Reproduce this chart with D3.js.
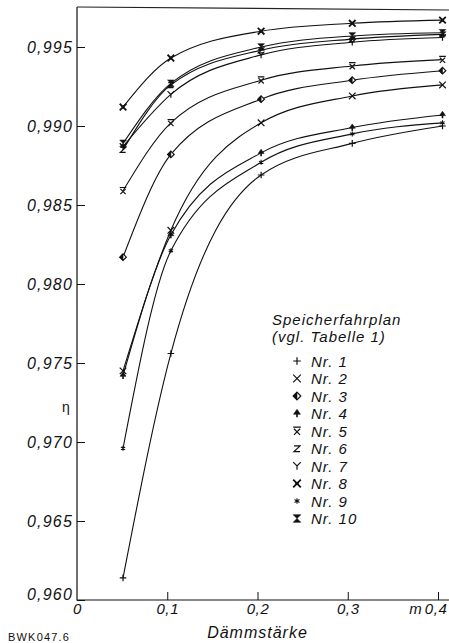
<!DOCTYPE html>
<html>
<head>
<meta charset="utf-8">
<script src="https://cdn.jsdelivr.net/npm/d3@7"></script>
<style>
	body { margin: 0; background: #fff; }
	svg { display: block; }
</style>
</head>
<body>
<svg id="chart"></svg>
<script>
const svgWidth = 449;
const svgHeight = 643;
const fontFamily = "'Liberation Sans', Arial, sans-serif";

// Dämmstärke in m (where the points sit)
const thickness = [0.051, 0.104, 0.204, 0.305, 0.405];

// eta per Speicherfahrplan
const nr1  = [0.9614, 0.9756, 0.9869, 0.9889, 0.9900];
const nr2  = [0.9745, 0.9834, 0.9902, 0.9919, 0.9926];
const nr3  = [0.9817, 0.9882, 0.9917, 0.9929, 0.9935];
const nr4  = [0.9742, 0.9831, 0.9883, 0.9899, 0.9907];
const nr5  = [0.9859, 0.9902, 0.9929, 0.9938, 0.9942];
const nr6  = [0.9885, 0.9926, 0.9948, 0.9955, 0.9958];
const nr7  = [0.9887, 0.9920, 0.9945, 0.9953, 0.9956];
const nr8  = [0.9912, 0.9943, 0.9960, 0.9965, 0.9967];
const nr9  = [0.9696, 0.9821, 0.9877, 0.9895, 0.9902];
const nr10 = [0.9889, 0.9927, 0.9950, 0.9957, 0.9959];

const seriesNames = ["Nr. 1", "Nr. 2", "Nr. 3", "Nr. 4", "Nr. 5", "Nr. 6", "Nr. 7", "Nr. 8", "Nr. 9", "Nr. 10"];
const seriesValues = [nr1, nr2, nr3, nr4, nr5, nr6, nr7, nr8, nr9, nr10];
const symbolTypes = ["plus", "cross", "halfDiamond", "arrow", "crossBar", "zed", "why", "boldCross", "star", "hourglass"];

const xTicks = [0, 0.1, 0.2, 0.3, 0.4];
const yTicks = [0.960, 0.965, 0.970, 0.975, 0.980, 0.985, 0.990, 0.995];

const chart = d3.select("#chart")
				.attr("width", svgWidth)
				.attr("height", svgHeight);

const xScale = d3.scaleLinear()
				.domain([0, 0.4])
				.range([77, 438]);
const yScale = d3.scaleLinear()
				.domain([0.960, 0.995])
				.range([600, 47]);

const plotTop = 7;

// Axes (ticks point inward)
const yAxis = d3.axisLeft(yScale)
				.tickValues(yTicks)
				.tickSizeInner(-8)
				.tickSizeOuter(0)
				.tickPadding(4)
				.tickFormat(d => d3.format(".3f")(d).replace(".", ","));
const xAxis = d3.axisBottom(xScale)
				.tickValues(xTicks)
				.tickSizeInner(-8)
				.tickSizeOuter(0)
				.tickPadding(3)
				.tickFormat(d => d === 0 ? "0" : d3.format(".1f")(d).replace(".", ","));

const gy = chart.append("g")
	.attr("transform", `translate(${xScale(0)},0)`)
	.call(yAxis);
const gx = chart.append("g")
	.attr("transform", `translate(0,${yScale(0.960)})`)
	.call(xAxis);

[gx, gy].forEach(g => {
	g.select(".domain").remove();
	g.attr("font-family", fontFamily)
		.attr("font-size", 16);
	g.selectAll("text")
		.attr("fill", "#111")
		.attr("font-style", "italic")
		.attr("letter-spacing", "1.2px");
	g.selectAll("line").attr("stroke", "#111");
});
gx.selectAll("text")
	.attr("font-size", 15)
	.attr("letter-spacing", "0.6px");
gy.selectAll(".tick text").filter(d => d === 0.960).attr("dy", "-0.05em");
gx.selectAll(".tick").filter(d => d === 0).select("line").remove();
// last label pushed against the page edge, as in the print
gx.selectAll(".tick text").filter(d => d === 0.4)
	.attr("text-anchor", "end")
	.attr("dx", "0.6em");

// frame
chart.append("path")
	.attr("d", `M${xScale(0)},${plotTop}V${yScale(0.960)}H${svgWidth}`)
	.attr("fill", "none")
	.attr("stroke", "#111")
	.attr("stroke-width", 1.2);
chart.append("path")
	.attr("d", `M${xScale(0)},${plotTop}L${svgWidth},${plotTop + 3}`)
	.attr("fill", "none")
	.attr("stroke", "#222")
	.attr("stroke-width", 1.2);

// Curves
const line = d3.line()
	.x((d, i) => xScale(thickness[i]))
	.y(d => yScale(d))
	.curve(d3.curveMonotoneX);

chart.append("g")
	.selectAll("path")
	.data(seriesValues)
	.enter()
	.append("path")
		.attr("d", line)
		.attr("fill", "none")
		.attr("stroke", "#111")
		.attr("stroke-width", 1.1);

function drawSymbol(g, type, s) {
	const sw = 1.2;
	const stroke = (d, w) => g.append("path").attr("d", d).attr("fill", "none").attr("stroke", "#111").attr("stroke-width", w || sw);
	const fill = d => g.append("path").attr("d", d).attr("fill", "#111").attr("stroke", "#111").attr("stroke-width", 0.6);
	if (type === "plus") stroke(`M${-s},0H${s}M0,${-s}V${s}`);
	if (type === "cross") stroke(`M${-s},${-s}L${s},${s}M${-s},${s}L${s},${-s}`);
	if (type === "halfDiamond") {
		g.append("path").attr("d", `M0,${-s}L${s},0L0,${s}L${-s},0Z`).attr("fill", "#fff").attr("stroke", "#111").attr("stroke-width", sw);
		fill(`M0,${-s}L${-s},0L0,${s}Z`);
	}
	if (type === "arrow") {
		fill(`M0,${-s * 1.1}L${s * 0.9},${s * 0.2}L${-s * 0.9},${s * 0.2}Z`);
		stroke(`M0,0V${s}`, 1.6);
	}
	if (type === "crossBar") stroke(`M${-s},${-s}H${s}M${-s * 0.8},${-s * 0.6}L${s * 0.8},${s}M${-s * 0.8},${s}L${s * 0.8},${-s * 0.6}`);
	if (type === "zed") stroke(`M${-s * 0.8},${-s * 0.7}H${s * 0.8}L${-s * 0.8},${s * 0.8}H${s * 0.8}`);
	if (type === "why") stroke(`M${-s},${-s}L0,0L${s},${-s}M0,0V${s}`);
	if (type === "boldCross") {
		stroke(`M${-s},${-s}L${s},${s}M${-s},${s}L${s},${-s}`, 1.8);
		g.append("circle").attr("r", s * 0.45).attr("fill", "#111");
	}
	if (type === "star") {
		const r = s * 0.75;
		stroke(`M0,${-r}V${r}M${-r * 0.87},${-r / 2}L${r * 0.87},${r / 2}M${-r * 0.87},${r / 2}L${r * 0.87},${-r / 2}`, 1.1);
	}
	if (type === "hourglass") fill(`M${-s},${-s}H${s}L${-s},${s}H${s}Z`);
}

// Markers
seriesValues.forEach((values, k) => {
	values.forEach((v, i) => {
		const g = chart.append("g")
			.attr("transform", `translate(${xScale(thickness[i])},${yScale(v)})`);
		drawSymbol(g, symbolTypes[k], 3.3);
	});
});

// Legend
const legend = chart.append("g")
	.attr("font-family", fontFamily)
	.attr("font-style", "italic")
	.attr("fill", "#111");
legend.append("text")
	.text("Speicherfahrplan")
	.attr("x", 272)
	.attr("y", 325)
	.attr("font-size", 15)
	.attr("letter-spacing", "1px");
legend.append("text")
	.text("(vgl. Tabelle 1)")
	.attr("x", 272)
	.attr("y", 342)
	.attr("font-size", 15)
	.attr("letter-spacing", "1px");

seriesNames.forEach((name, k) => {
	const cy = 361 + k * 17.5;
	drawSymbol(legend.append("g").attr("transform", `translate(297,${cy})`), symbolTypes[k], 3.8);
	legend.append("text")
		.text(name)
		.attr("x", 311)
		.attr("y", cy + 5.5)
		.attr("font-size", 15)
		.attr("letter-spacing", "1px");
});

// Axis titles
chart.append("text")
	.text("Dämmstärke")
	.attr("x", xScale(0.2))
	.attr("y", 638)
	.attr("text-anchor", "middle")
	.attr("font-family", fontFamily)
	.attr("font-style", "italic")
	.attr("font-size", 16)
	.attr("letter-spacing", "1px")
	.attr("fill", "#111");
chart.append("text")
	.text("m")
	.attr("x", xScale(0.375))
	.attr("y", 614)
	.attr("text-anchor", "middle")
	.attr("font-family", fontFamily)
	.attr("font-style", "italic")
	.attr("font-size", 15)
	.attr("fill", "#111");
chart.append("text")
	.text("η")
	.attr("x", 66)
	.attr("y", 412)
	.attr("text-anchor", "middle")
	.attr("font-family", fontFamily)
	.attr("font-size", 14)
	.attr("fill", "#111");
chart.append("text")
	.text("BWK047.6")
	.attr("x", 8)
	.attr("y", 641)
	.attr("font-family", fontFamily)
	.attr("font-size", 11)
	.attr("letter-spacing", "1.2px")
	.attr("fill", "#111");
</script>
</body>
</html>
